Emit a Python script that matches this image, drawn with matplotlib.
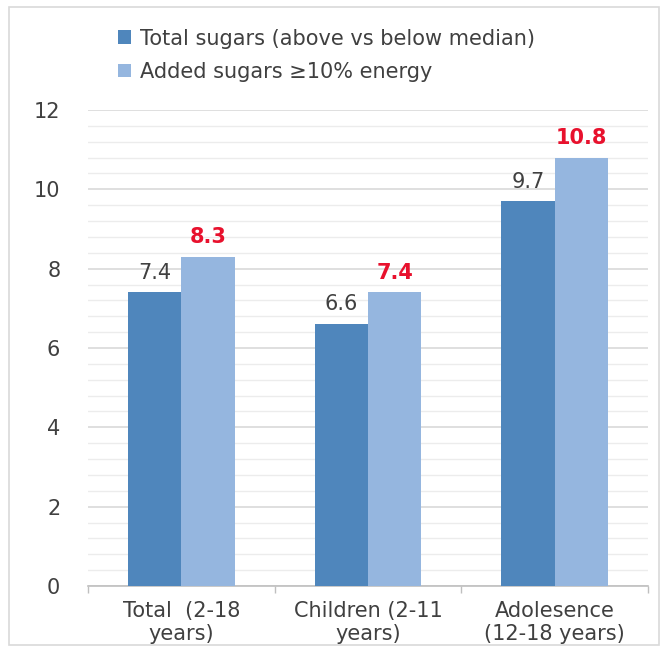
import matplotlib
matplotlib.use("Agg")
import matplotlib.pyplot as plt
import numpy as np
from matplotlib.patches import Rectangle
from matplotlib.ticker import MultipleLocator

categories = ["Total  (2-18\nyears)", "Children (2-11\nyears)", "Adolesence\n(12-18 years)"]
series_names = ["Total sugars (above vs below median)", "Added sugars \u226510% energy"]
total_sugars = [7.4, 6.6, 9.7]
added_sugars = [8.3, 7.4, 10.8]
y_ticks = [0, 2, 4, 6, 8, 10, 12]

dark_blue = "#4F86BC"
light_blue = "#95B6DF"
text_gray = "#404040"
red = "#E8112D"

plt.rcParams["font.family"] = ["DejaVu Sans"]
fs = 15

fig = plt.figure(figsize=(6.67, 6.52), dpi=100)
fig.patches.append(Rectangle((0.013, 0.011), 0.975, 0.978, transform=fig.transFigure,
                             fill=False, edgecolor="#D9D9D9", linewidth=1.2))

ax = fig.add_axes([0.132, 0.1012, 0.8395, 0.7301])
x = np.arange(len(categories))
w = 0.285
b1 = ax.bar(x - w / 2, total_sugars, w, color=dark_blue, label=series_names[0], zorder=3)
b2 = ax.bar(x + w / 2, added_sugars, w, color=light_blue, label=series_names[1], zorder=3)

for rect, v in zip(b1, total_sugars):
    ax.annotate(f"{v}", (rect.get_x() + rect.get_width() / 2, v), xytext=(0, 7),
                textcoords="offset points", ha="center", va="bottom",
                fontsize=fs, color=text_gray, zorder=4)
for rect, v in zip(b2, added_sugars):
    ax.annotate(f"{v}", (rect.get_x() + rect.get_width() / 2, v), xytext=(0, 7),
                textcoords="offset points", ha="center", va="bottom",
                fontsize=fs, color=red, fontweight="bold", zorder=4)

ax.set_xlim(-0.5, len(categories) - 0.5)
ax.set_ylim(0, 12)
ax.set_yticks(y_ticks)
ax.set_yticklabels([str(t) for t in y_ticks], fontsize=fs, color=text_gray)
ax.yaxis.set_minor_locator(MultipleLocator(0.4))
ax.grid(axis="y", which="major", color="#D9D9D9", linewidth=1.2, zorder=0)
ax.grid(axis="y", which="minor", color="#ECECEC", linewidth=1.0, zorder=0)
ax.tick_params(axis="y", which="both", length=0, pad=20)

ax.set_xticks(x)
ax.set_xticklabels(categories, fontsize=fs, color=text_gray, linespacing=1.15)
ax.tick_params(axis="x", which="major", length=0, pad=11)
ax.set_xticks(np.arange(-0.5, len(categories)), minor=True)
ax.tick_params(axis="x", which="minor", length=5, color="#BFBFBF", width=1)

for s in ["top", "right", "left"]:
    ax.spines[s].set_visible(False)
ax.spines["bottom"].set_color("#BFBFBF")
ax.spines["bottom"].set_linewidth(1.2)

leg = fig.legend(handles=[b1, b2], labels=series_names, loc="upper left",
                 bbox_to_anchor=(0.149, 0.985), frameon=False, fontsize=fs,
                 handlelength=0.62, handleheight=0.62, handletextpad=0.45,
                 labelspacing=0.65, labelcolor=text_gray)

fig.savefig("out.png", dpi=100)
